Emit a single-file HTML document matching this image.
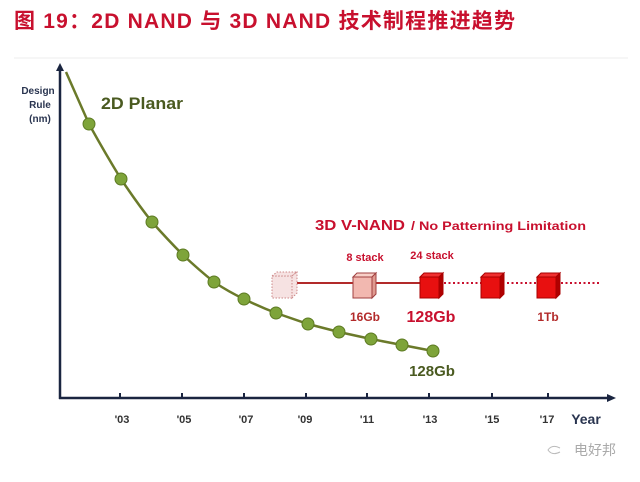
<!DOCTYPE html>
<html><head><meta charset="utf-8"><style>
html,body{margin:0;padding:0;background:#fff;}
</style></head><body>
<svg width="640" height="477" viewBox="0 0 640 477" xmlns="http://www.w3.org/2000/svg" font-family="Liberation Sans, Noto Sans CJK SC, sans-serif">
<rect width="640" height="477" fill="#fff"/>
<text x="14" y="28" font-size="21" font-weight="bold" fill="#c8102e" textLength="501" lengthAdjust="spacing" font-family="Liberation Sans, Noto Sans CJK SC, sans-serif">图 19：2D  NAND 与 3D  NAND 技术制程推进趋势</text>
<line x1="14" y1="58" x2="628" y2="58" stroke="#eee" stroke-width="1"/>
<line x1="60" y1="68" x2="60" y2="399" stroke="#1a2540" stroke-width="2.5"/>
<polygon points="60,63 56,71 64,71" fill="#1a2540"/>
<line x1="59" y1="398" x2="610" y2="398" stroke="#1a2540" stroke-width="2.5"/>
<polygon points="616,398 607,394 607,402" fill="#1a2540"/>
<g stroke="#1a2540" stroke-width="2">
<line x1="120" y1="393" x2="120" y2="398"/><line x1="182" y1="393" x2="182" y2="398"/>
<line x1="244" y1="393" x2="244" y2="398"/><line x1="306" y1="393" x2="306" y2="398"/>
<line x1="367" y1="393" x2="367" y2="398"/><line x1="429" y1="393" x2="429" y2="398"/>
<line x1="492" y1="393" x2="492" y2="398"/><line x1="548" y1="393" x2="548" y2="398"/>
</g>
<g font-size="11" font-weight="bold" fill="#333" text-anchor="middle">
<text x="122" y="423">'03</text><text x="184" y="423">'05</text><text x="246" y="423">'07</text>
<text x="305" y="423">'09</text><text x="367" y="423">'11</text><text x="430" y="423">'13</text>
<text x="492" y="423">'15</text><text x="547" y="423">'17</text>
</g>
<text x="586" y="424" font-size="14" font-weight="bold" fill="#2a3550" text-anchor="middle">Year</text>
<g font-size="10" font-weight="bold" fill="#2a3550" text-anchor="middle">
<text x="38" y="94">Design</text><text x="40" y="108">Rule</text><text x="40" y="122">(nm)</text>
</g>
<text x="101" y="109" font-size="17" font-weight="bold" fill="#4a5a20" textLength="82" lengthAdjust="spacingAndGlyphs">2D Planar</text>
<path d="M66,72 L89,124 Q105,153 121,179 Q137,203 152,222 Q168,240 183,255 Q199,270 214,282 Q229,292 244,299 Q260,307 276,313 L308,324 L339,332 L371,339 L402,345 L433,351" fill="none" stroke="#6b7a2a" stroke-width="2.5"/>
<g fill="#7ea43a" stroke="#5c7a22" stroke-width="1">
<circle cx="89" cy="124" r="6"/><circle cx="121" cy="179" r="6"/><circle cx="152" cy="222" r="6"/>
<circle cx="183" cy="255" r="6"/><circle cx="214" cy="282" r="6"/><circle cx="244" cy="299" r="6"/>
<circle cx="276" cy="313" r="6"/><circle cx="308" cy="324" r="6"/><circle cx="339" cy="332" r="6"/>
<circle cx="371" cy="339" r="6"/><circle cx="402" cy="345" r="6"/><circle cx="433" cy="351" r="6"/>
</g>
<text x="432" y="376" font-size="15" font-weight="bold" fill="#4a5a20" text-anchor="middle">128Gb</text>
<text x="315" y="230" font-size="15" font-weight="bold" fill="#c8102e" textLength="90" lengthAdjust="spacingAndGlyphs">3D V-NAND</text>
<text x="411" y="230" font-size="12" font-weight="bold" fill="#c8102e" textLength="175" lengthAdjust="spacingAndGlyphs">/ No Patterning Limitation</text>
<text x="365" y="261" font-size="11" font-weight="bold" fill="#c8102e" text-anchor="middle">8 stack</text>
<text x="432" y="259" font-size="11" font-weight="bold" fill="#c8102e" text-anchor="middle">24 stack</text>
<line x1="297" y1="283" x2="420" y2="283" stroke="#b22a2a" stroke-width="2"/>
<line x1="444" y1="283" x2="600" y2="283" stroke="#c8102e" stroke-width="2" stroke-dasharray="2,2.5"/>
<g fill="#f6e2e2" stroke="#c88" stroke-width="1" stroke-dasharray="1.5,1.5">
<rect x="272" y="276" width="20" height="22"/><polygon points="272,276 277,272 297,272 292,276"/><polygon points="292,276 297,272 297,293 292,298"/>
</g>
<g fill="#f2b8b0" stroke="#a04040" stroke-width="1">
<rect x="353" y="277" width="19" height="21"/><polygon points="353,277 357,273 376,273 372,277" fill="#f8d0c8"/><polygon points="372,277 376,273 376,294 372,298" fill="#e09a90"/>
</g>
<g stroke="#a00" stroke-width="1">
<rect x="420" y="277" width="19" height="21" fill="#e81010"/><polygon points="420,277 424,273 443,273 439,277" fill="#f03030"/><polygon points="439,277 443,273 443,294 439,298" fill="#b00000"/>
<rect x="481" y="277" width="19" height="21" fill="#e81010"/><polygon points="481,277 485,273 504,273 500,277" fill="#f03030"/><polygon points="500,277 504,273 504,294 500,298" fill="#b00000"/>
<rect x="537" y="277" width="19" height="21" fill="#e81010"/><polygon points="537,277 541,273 560,273 556,277" fill="#f03030"/><polygon points="556,277 560,273 560,294 556,298" fill="#b00000"/>
</g>
<text x="365" y="321" font-size="12" font-weight="bold" fill="#b22a2a" text-anchor="middle">16Gb</text>
<text x="431" y="322" font-size="16" font-weight="bold" fill="#c8102e" text-anchor="middle">128Gb</text>
<text x="548" y="321" font-size="12" font-weight="bold" fill="#b22a2a" text-anchor="middle">1Tb</text>
<text x="574" y="455" font-size="14" fill="#aaa" font-family="Liberation Sans, Noto Sans CJK SC, sans-serif">电好邦</text>
<path d="M560,448 q-8,-4 -12,2 q4,6 12,2" fill="none" stroke="#bbb" stroke-width="1"/>
</svg>
</body></html>
